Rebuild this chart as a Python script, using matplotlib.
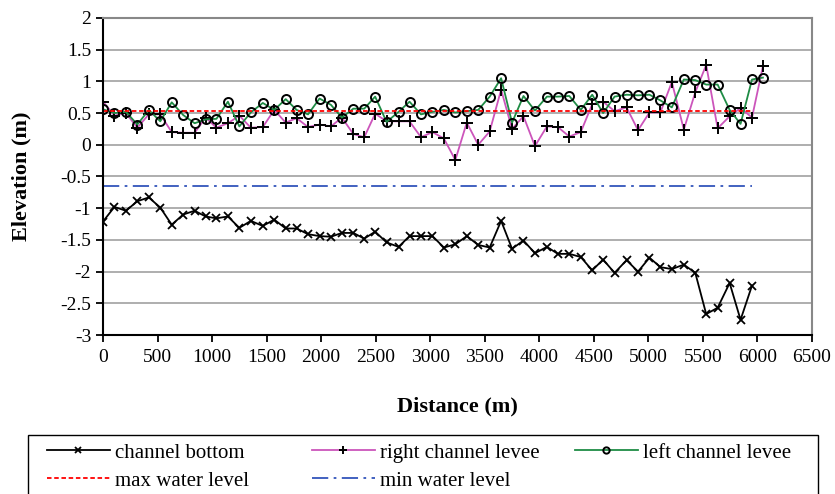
import matplotlib
matplotlib.use("Agg")
import matplotlib.pyplot as plt
from matplotlib.patches import Rectangle
from matplotlib.ticker import MultipleLocator, FuncFormatter

plt.rcParams['font.family'] = ['Liberation Serif', 'DejaVu Serif']
plt.rcParams['axes.unicode_minus'] = False

# distance along the channel (m)
distance = [0, 105, 210, 315, 420, 525, 630, 735, 840, 940,
            1040, 1145, 1250, 1355, 1465, 1570, 1675, 1775, 1880, 1985,
            2090, 2190, 2295, 2395, 2495, 2600, 2710, 2810, 2915, 3020,
            3125, 3230, 3335, 3440, 3545, 3650, 3750, 3855, 3960, 4070,
            4170, 4275, 4380, 4485, 4585, 4690, 4800, 4905, 5010, 5110,
            5215, 5325, 5430, 5530, 5635, 5745, 5845, 5950, 6050]

channel_bottom = [-1.21, -0.98, -1.04, -0.89, -0.83, -0.99, -1.26, -1.10, -1.04, -1.13,
                  -1.16, -1.13, -1.31, -1.20, -1.28, -1.18, -1.32, -1.32, -1.41, -1.44,
                  -1.45, -1.39, -1.39, -1.48, -1.37, -1.54, -1.61, -1.44, -1.44, -1.44,
                  -1.62, -1.57, -1.44, -1.58, -1.62, -1.20, -1.64, -1.51, -1.71, -1.61,
                  -1.72, -1.72, -1.77, -1.98, -1.81, -2.02, -1.82, -2.00, -1.78, -1.93,
                  -1.96, -1.89, -2.02, -2.67, -2.57, -2.18, -2.76, -2.22]

right_levee = [0.68, 0.46, 0.50, 0.27, 0.48, 0.48, 0.20, 0.19, 0.19, 0.43,
               0.27, 0.34, 0.46, 0.27, 0.28, 0.55, 0.35, 0.42, 0.28, 0.32,
               0.29, 0.43, 0.17, 0.12, 0.49, 0.37, 0.37, 0.37, 0.12, 0.20,
               0.10, -0.24, 0.35, 0.00, 0.21, 0.87, 0.25, 0.45, -0.02, 0.29,
               0.28, 0.13, 0.20, 0.64, 0.68, 0.53, 0.59, 0.23, 0.51, 0.51,
               0.99, 0.24, 0.83, 1.26, 0.26, 0.45, 0.58, 0.43, 1.24]

left_levee = [0.56, 0.50, 0.52, 0.32, 0.55, 0.37, 0.67, 0.47, 0.34, 0.40,
              0.41, 0.68, 0.29, 0.51, 0.66, 0.55, 0.72, 0.55, 0.48, 0.73,
              0.63, 0.43, 0.57, 0.57, 0.76, 0.36, 0.52, 0.68, 0.48, 0.52,
              0.55, 0.51, 0.53, 0.55, 0.76, 1.05, 0.35, 0.77, 0.54, 0.76,
              0.76, 0.77, 0.55, 0.79, 0.50, 0.76, 0.79, 0.78, 0.79, 0.70,
              0.59, 1.03, 1.02, 0.95, 0.95, 0.55, 0.33, 1.03, 1.06]

water_dist = [0, 5950]
max_water = [0.53, 0.53]
min_water = [-0.65, -0.65]


def fmt_tick(v, pos):
    return '%g' % v


def add_legend_column(fig, handles, labels, x_px):
    # one legend per column so the columns sit where Excel put them
    leg = fig.legend(handles, labels, loc='upper left',
                     bbox_to_anchor=(x_px / 835, 1 - 443 / 494),
                     fontsize=15, frameon=False, handlelength=3.0,
                     handletextpad=0.25, labelspacing=0.4, borderpad=0,
                     borderaxespad=0, markerscale=0.7)
    return leg


def plot_profile():
    fig = plt.figure(figsize=(8.35, 4.94), dpi=100)
    ax = fig.add_axes([103 / 835, 1 - 335 / 494, 709 / 835, 317 / 494])

    ax.yaxis.grid(True, color='#a8a8a8', linewidth=1.3)
    ax.set_axisbelow(True)

    l_cb, = ax.plot(distance[:len(channel_bottom)], channel_bottom,
                    color='black', lw=1.3, marker='x', ms=5.5, mew=1.3)
    l_rl, = ax.plot(distance, right_levee, color='#cc55bb', lw=1.3,
                    marker='+', ms=9, mew=1.4, mec='black')
    l_ll, = ax.plot(distance, left_levee, color='#1f8c45', lw=1.3,
                    marker='o', ms=6.5, mew=1.4, mec='black', mfc='none')
    l_max, = ax.plot(water_dist, max_water, color='#ff0000', lw=1.3,
                     dashes=(2.5, 1.5))
    l_min, = ax.plot(water_dist, min_water, color='#3355bb', lw=1.3,
                     dashes=(9, 3, 1.5, 3))

    ax.set_xlim(0, 6500)
    ax.set_ylim(-3, 2)
    ax.xaxis.set_major_locator(MultipleLocator(500))
    ax.yaxis.set_major_locator(MultipleLocator(0.5))
    ax.yaxis.set_major_formatter(FuncFormatter(fmt_tick))
    ax.tick_params(direction='out', length=5, width=1.3, labelsize=14,
                   colors='black')
    ax.tick_params(axis='x', pad=5)

    for s in ['left', 'bottom']:
        ax.spines[s].set_color('black')
        ax.spines[s].set_linewidth(1.5)
    for s in ['top', 'right']:
        ax.spines[s].set_color('#888888')
        ax.spines[s].set_linewidth(1.5)

    ax.set_xlabel('Distance (m)', fontsize=16, fontweight='bold', labelpad=22)
    ax.set_ylabel('Elevation (m)', fontsize=16, fontweight='bold', labelpad=21)

    add_legend_column(fig, [l_cb, l_max], ['channel bottom', 'max water level'], 47)
    add_legend_column(fig, [l_rl, l_min], ['right channel levee', 'min water level'], 312)
    add_legend_column(fig, [l_ll], ['left channel levee'], 575)

    # legend frame, runs off the bottom of the picture like the original
    box = Rectangle((28 / 835, -0.05), 790 / 835, 1 - 435 / 494 + 0.05,
                    transform=fig.transFigure, fill=False, edgecolor='black',
                    linewidth=1.0, clip_on=False)
    fig.add_artist(box)
    return fig


def main():
    fig = plot_profile()
    fig.savefig('out.png', dpi=100)


main()
